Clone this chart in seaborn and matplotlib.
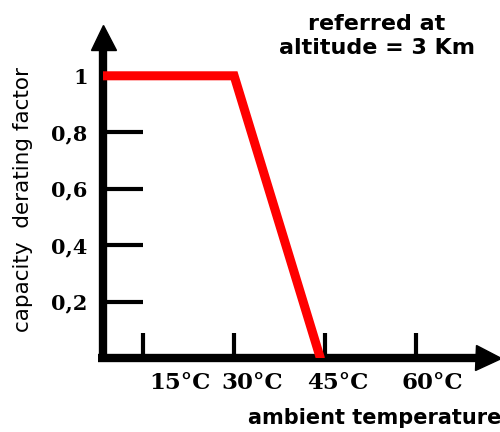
import matplotlib
matplotlib.use("Agg")
import matplotlib.pyplot as plt
import matplotlib.transforms as mtransforms
import seaborn as sns
import pandas as pd

# data (schematic derating curve)
temp = [8.4, 30, 44.2]
factor = [1.0, 1.0, 0.0]
x_ticks = [15, 30, 45, 60]
x_labels = ["15°C", "30°C", "45°C", "60°C"]
x_label_pos = [21.1, 33.0, 47.1, 62.6]
y_ticks = [0.2, 0.4, 0.6, 0.8, 1.0]
y_labels = ["0,2", "0,4", "0,6", "0,8", "1"]

df = pd.DataFrame({"temp": temp, "factor": factor})

sns.set_style("white")
plt.rcParams["text.color"] = "black"
plt.rcParams["xtick.color"] = "black"
plt.rcParams["ytick.color"] = "black"

fig = plt.figure(figsize=(5, 4.32), dpi=100)
# axes: left spine at x=103px, bottom at y=358px, top at 25px, right edge 500px
ax = fig.add_axes([103 / 500, (432 - 358) / 432, (500 - 103) / 500, (358 - 25) / 432])

sns.lineplot(data=df, x="temp", y="factor", color="#ff0000", lw=6.5,
             solid_capstyle="round", solid_joinstyle="miter", ax=ax, zorder=5)

ax.set_xlim(8.4, 73.8)
ax.set_ylim(0, 1.18)

for s in ["top", "right"]:
    ax.spines[s].set_visible(False)
for s in ["left", "bottom"]:
    ax.spines[s].set_linewidth(6)
    ax.spines[s].set_color("black")
    ax.spines[s].set_capstyle("butt")
ax.spines["left"].set_bounds(-0.014, 1.12)
ax.spines["bottom"].set_bounds(7.5, 70)

ax.set_yticks(y_ticks)
ax.set_yticklabels(y_labels, family="DejaVu Serif", fontweight="bold", fontsize=15)
ax.tick_params(axis="y", left=True, direction="in", length=29, width=3, color="black", pad=11)

ax.set_xticks(x_ticks)
ax.set_xticklabels([])
ax.tick_params(axis="x", bottom=True, direction="in", length=18, width=3, color="black")

lab_tr = mtransforms.offset_copy(
    mtransforms.blended_transform_factory(ax.transData, ax.transAxes),
    fig=fig, x=0, y=-25, units="dots")
for xp, lab in zip(x_label_pos, x_labels):
    ax.text(xp, 0, lab, transform=lab_tr, ha="center", va="center",
            family="DejaVu Serif", fontweight="bold", fontsize=16.5)

# arrowheads
up = mtransforms.offset_copy(ax.transAxes, fig=fig, x=0, y=-12, units="dots")
ax.plot([0], [1], marker="^", markersize=18, color="black", transform=up, clip_on=False)
rt = mtransforms.offset_copy(ax.transAxes, fig=fig, x=-12, y=0, units="dots")
ax.plot([1], [0], marker=">", markersize=18, color="black", transform=rt, clip_on=False)

ax.set_xlabel("")
ax.set_ylabel("")
fig.text(23 / 500, 1 - 200 / 432, "capacity  derating factor", rotation=90,
         ha="center", va="center", fontsize=15.5, family="DejaVu Sans")
fig.text(248 / 500, 1 - 418 / 432, "ambient temperature", ha="left", va="center",
         fontsize=15, fontweight="bold", family="DejaVu Sans")
fig.text(377 / 500, 1 - 36 / 432, "referred at\naltitude = 3 Km", ha="center", va="center",
         fontsize=16, fontweight="bold", family="DejaVu Sans", linespacing=1.3)

fig.savefig("out.png", dpi=100)
